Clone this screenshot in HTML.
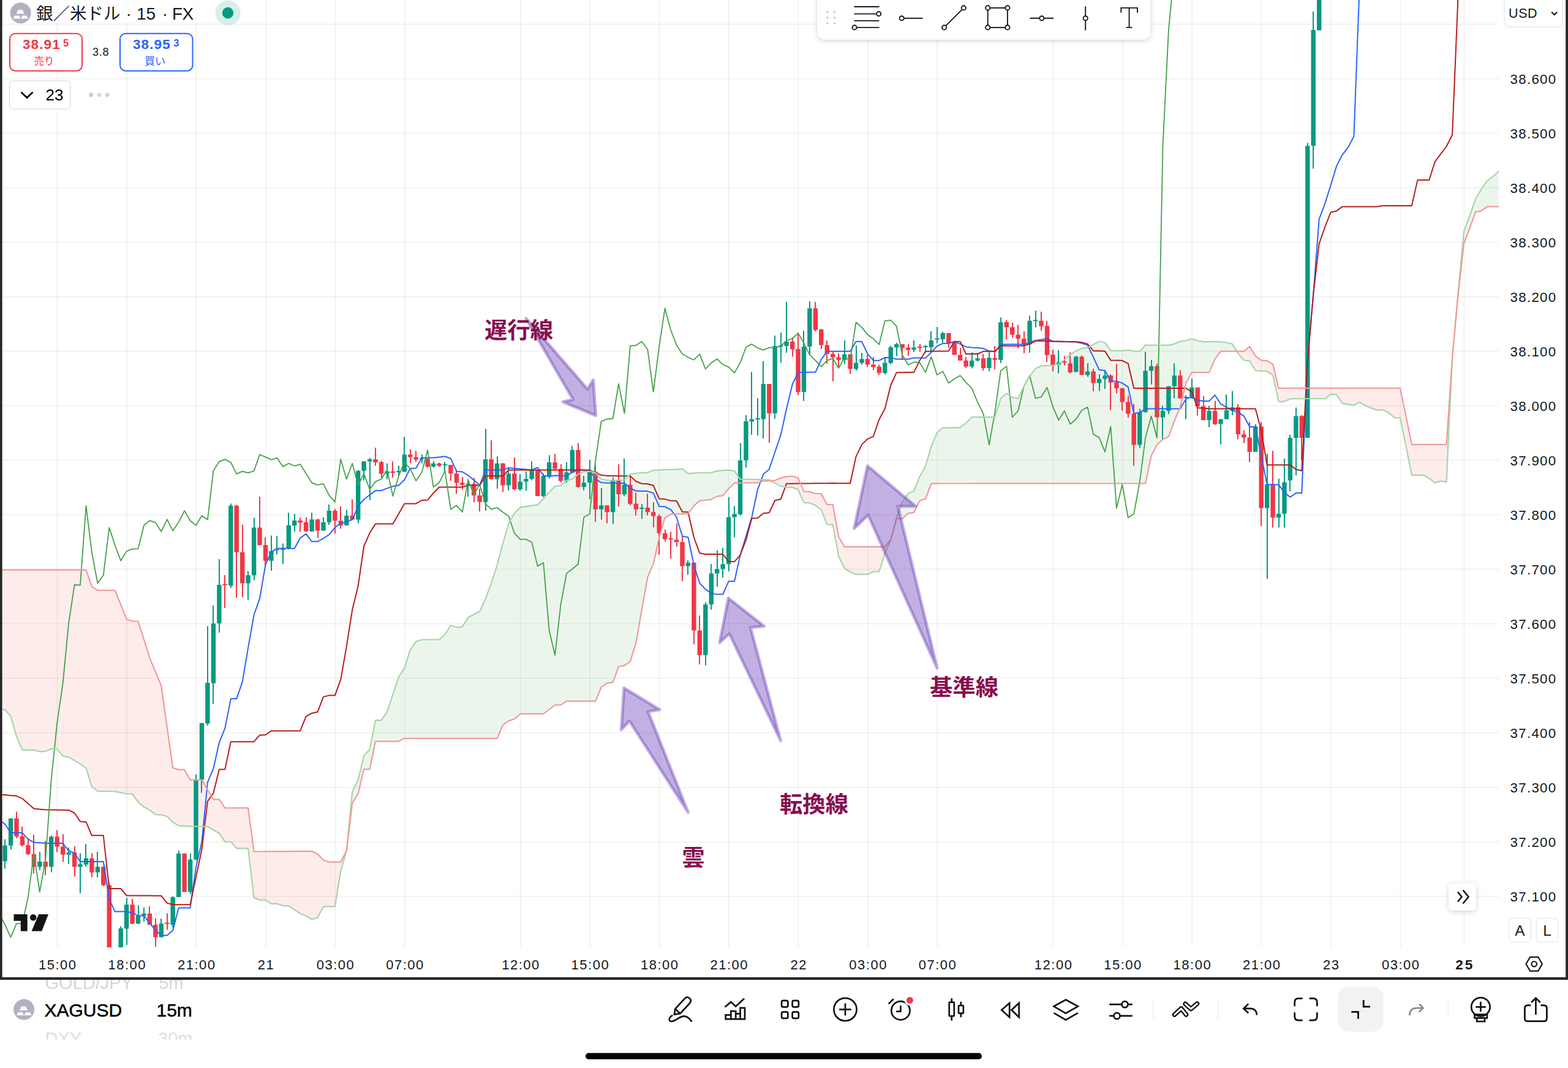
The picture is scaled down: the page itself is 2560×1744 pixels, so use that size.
<!DOCTYPE html>
<html><head><meta charset="utf-8"><title>XAGUSD 15m Ichimoku</title>
<style>html,body{margin:0;padding:0;background:#fff}body{width:2560px;height:1744px;position:relative;overflow:hidden;font-family:"Liberation Sans",sans-serif}svg text{font-family:"Liberation Sans","Noto Sans CJK JP",sans-serif}</style>
</head><body>
<svg width="2560" height="1744" viewBox="0 0 2560 1744" style="position:absolute;left:0;top:0">
<defs><clipPath id="plot"><rect x="3.5" y="0" width="2444" height="1547"/></clipPath><filter id="sh" x="-20%" y="-20%" width="140%" height="160%"><feDropShadow dx="0" dy="2" stdDeviation="4" flood-color="#000" flood-opacity="0.18"/></filter></defs>
<path d="M93.6 0V1547M207 0V1547M320.4 0V1547M433.9 0V1547M547.3 0V1547M660.7 0V1547M849.7 0V1547M963.2 0V1547M1076.6 0V1547M1190 0V1547M1303.4 0V1547M1416.9 0V1547M1530.3 0V1547M1719.3 0V1547M1832.7 0V1547M1946.2 0V1547M2059.6 0V1547M2173 0V1547M2286.4 0V1547M2390.4 0V1547" stroke="#000" stroke-opacity="0.05" stroke-width="2" fill="none"/>
<path d="M3.5 39.4H2447.5M3.5 128.4H2447.5M3.5 217.4H2447.5M3.5 306.4H2447.5M3.5 395.5H2447.5M3.5 484.5H2447.5M3.5 573.5H2447.5M3.5 662.5H2447.5M3.5 751.5H2447.5M3.5 840.6H2447.5M3.5 929.6H2447.5M3.5 1018.6H2447.5M3.5 1107.6H2447.5M3.5 1196.6H2447.5M3.5 1285.7H2447.5M3.5 1374.7H2447.5M3.5 1463.7H2447.5" stroke="#000" stroke-opacity="0.05" stroke-width="2" fill="none"/>
<g clip-path="url(#plot)">
<path d="M3.7 1158.7 L8.1 1159.1 L17.6 1169.4 L27 1202.5 L36.5 1224.8 L45.9 1224.8 L55.4 1224.8 L64.8 1227.3 L74.3 1226.9 L83.7 1222.7 L93.2 1223.1 L102.7 1234.5 L112.1 1236.2 L121.6 1241.9 L131 1247.6 L140.5 1253.8 L149.9 1284.7 L159.4 1292 L168.8 1292.1 L178.3 1292.2 L187.7 1292.4 L197.2 1294.4 L206.6 1296.5 L216.1 1296.5 L225.5 1309.5 L235 1317.8 L244.4 1322.9 L253.9 1330.2 L263.3 1330.6 L272.8 1333.3 L282.2 1342.6 L291.7 1348.3 L301.1 1348.9 L310.6 1349.4 L320 1349.5 L329.5 1349.7 L338.9 1349.8 L348.4 1355.3 L357.9 1360.7 L367.3 1374.6 L376.8 1374.6 L386.2 1385.3 L395.7 1385.3 L405.1 1385.3 L414.6 1466.1 L424 1469.6 L433.5 1469.6 L442.9 1475.8 L452.4 1475.8 L461.8 1478.9 L471.3 1479.4 L480.7 1485.4 L490.2 1491.9 L499.6 1495.8 L509.1 1501.2 L518.5 1498.5 L528 1480.3 L537.4 1480.3 L546.9 1480.3 L556.3 1422.1 L565.8 1389 L565.8 1389 L556.3 1407.6 L546.9 1407.6 L537.4 1407.6 L528 1404.5 L518.5 1394.6 L509.1 1390.1 L499.6 1390.1 L490.2 1390.1 L480.7 1390.1 L471.3 1390.3 L461.8 1390.3 L452.4 1390.3 L442.9 1390.3 L433.5 1390.5 L424 1390.5 L414.6 1390.5 L405.1 1319.4 L395.7 1319.4 L386.2 1319.4 L376.8 1319.4 L367.3 1319.4 L357.9 1305.4 L348.4 1305.4 L338.9 1289.9 L329.5 1273.4 L320 1273.4 L310.6 1273.4 L301.1 1256.9 L291.7 1256.9 L282.2 1253.8 L272.8 1187.3 L263.3 1119.9 L253.9 1097.1 L244.4 1074.4 L235 1044.5 L225.5 1014.5 L216.1 1014.5 L206.6 1010.8 L197.2 987.4 L187.7 964 L178.3 964 L168.8 964 L159.4 964 L149.9 957.8 L140.5 930.6 L131 930.6 L121.6 930.6 L112.1 930.6 L102.7 930.6 L93.2 930.6 L83.7 930.6 L74.3 930.6 L64.8 930.6 L55.4 930.6 L45.9 930.6 L36.5 930.6 L27 930.6 L17.6 930.6 L8.1 930.6 L3.7 930.6 Z" fill="#f44336" fill-opacity="0.1"/>
<path d="M565.8 1389 L575.2 1293 L584.7 1273.8 L594.1 1234.2 L603.6 1223.6 L613 1176.1 L622.5 1176.1 L632 1162.6 L641.4 1134.1 L650.9 1105.6 L660.3 1090.8 L669.8 1060.8 L679.2 1047.8 L688.7 1044.5 L698.1 1044.5 L707.6 1044.5 L717 1044.5 L726.5 1036 L735.9 1021.2 L745.4 1024.3 L754.8 1023.6 L764.3 1008.2 L773.7 1003.3 L783.2 998.5 L792.6 978.2 L802.1 952.3 L811.5 923 L821 887.8 L830.4 854.8 L839.9 838.3 L849.3 828.4 L858.8 827.1 L868.2 825.7 L877.7 824.4 L887.2 814.5 L896.6 803.7 L906.1 793.9 L915.5 792.8 L925 784.6 L934.4 782.1 L943.9 774.3 L953.3 770.1 L962.8 769.7 L972.2 772.2 L981.7 782.5 L991.1 784 L1000.6 784.6 L1010 784 L1019.5 783.6 L1028.9 774.3 L1038.4 772.8 L1047.8 772.2 L1057.3 771.6 L1066.7 768.1 L1076.2 767.5 L1085.6 767 L1095.1 766.8 L1104.5 766.6 L1114 765.6 L1123.4 773.2 L1132.9 772.7 L1142.3 772.2 L1151.8 772 L1161.3 771.8 L1170.7 769.1 L1180.2 768.1 L1189.6 767.6 L1199.1 769.1 L1208.5 782.5 L1218 782.7 L1227.4 782.9 L1236.9 783.1 L1246.3 783.3 L1255.8 783.5 L1258.3 785 L1258.3 785 L1255.8 785.1 L1246.3 785.6 L1236.9 788.3 L1227.4 788.4 L1218 788.5 L1208.5 788.6 L1199.1 788.7 L1189.6 798 L1180.2 809.4 L1170.7 810.4 L1161.3 815.6 L1151.8 816.6 L1142.3 817.6 L1132.9 825.9 L1123.4 838.9 L1114 839.1 L1104.5 839.3 L1095.1 839.9 L1085.6 845.5 L1076.2 877.5 L1066.7 920.9 L1057.3 942.8 L1047.8 995.8 L1038.4 1049.5 L1028.9 1080.4 L1019.5 1086.6 L1010 1088.7 L1000.6 1114.1 L991.1 1115.6 L981.7 1121.8 L972.2 1144.9 L962.8 1144.9 L953.3 1144.9 L943.9 1144.9 L934.4 1144.9 L925 1144.9 L915.5 1151.2 L906.1 1151.3 L896.6 1158.5 L887.2 1165.7 L877.7 1165.7 L868.2 1165.7 L858.8 1165.7 L849.3 1165.7 L839.9 1174 L830.4 1177.1 L821 1184.1 L811.5 1205.8 L802.1 1205.8 L792.6 1205.8 L783.2 1205.8 L773.7 1205.8 L764.3 1205.8 L754.8 1205.8 L745.4 1205.8 L735.9 1205.8 L726.5 1205.8 L717 1205.8 L707.6 1205.8 L698.1 1205.8 L688.7 1205.8 L679.2 1205.8 L669.8 1205.8 L660.3 1205.8 L650.9 1210.6 L641.4 1210.6 L632 1210.6 L622.5 1210.6 L613 1210.6 L603.6 1256.2 L594.1 1256.2 L584.7 1295.7 L575.2 1311.6 L565.8 1389 Z" fill="#43a047" fill-opacity="0.1"/>
<path d="M1258.3 785 L1265.2 788.7 L1274.7 793.9 L1284.1 795.6 L1293.6 795.9 L1303 799.5 L1312.5 820.8 L1321.9 821.2 L1331.4 825.3 L1340.8 832.3 L1350.3 856.3 L1359.7 856.6 L1369.2 908.3 L1378.6 928 L1388.1 934.1 L1397.5 937.9 L1407 937.9 L1416.5 937.9 L1425.9 933.5 L1435.4 933.1 L1444.8 904.2 L1454.3 881.5 L1454.3 881.5 L1444.8 892.8 L1435.4 892.8 L1425.9 892.8 L1416.5 892.8 L1407 892.8 L1397.5 892.8 L1388.1 892.8 L1378.6 892.8 L1369.2 876.3 L1359.7 824 L1350.3 824 L1340.8 806.2 L1331.4 806 L1321.9 802.9 L1312.5 802.5 L1303 780.6 L1293.6 777.5 L1284.1 778.4 L1274.7 780.4 L1265.2 784.6 L1258.3 785 Z" fill="#f44336" fill-opacity="0.1"/>
<path d="M1454.3 881.5 L1463.7 845.3 L1473.2 819.5 L1482.6 805.7 L1492.1 802 L1501.5 778.2 L1511 761.2 L1520.4 729.2 L1529.9 706.4 L1539.3 698.6 L1548.8 698.4 L1558.2 698.3 L1567.7 698.2 L1577.1 690.9 L1586.6 681.2 L1596 681.2 L1605.5 681.1 L1614.9 681.1 L1624.4 681 L1633.8 650.7 L1643.3 642.3 L1652.7 649 L1662.2 650.8 L1671.7 630.9 L1681.1 614.3 L1690.6 601.9 L1700 597.3 L1709.5 597 L1718.9 596.7 L1728.4 594.6 L1737.8 587.4 L1747.3 579.1 L1756.7 572.9 L1766.2 568.8 L1775.6 567.8 L1785.1 562.6 L1794.5 557.5 L1804 559.5 L1813.4 572.5 L1822.9 572.7 L1832.3 572.9 L1841.8 571.5 L1851.2 573.4 L1860.7 574 L1870.1 563.6 L1879.6 563.6 L1889 563.6 L1898.5 563.6 L1907.9 563.6 L1917.4 561.6 L1926.8 557.5 L1936.3 556 L1945.8 553.3 L1955.2 556.4 L1964.7 558.1 L1974.1 558.1 L1983.6 558.1 L1993 558.1 L2002.5 559.5 L2011.9 561.6 L2019.2 573.6 L2019.2 573.6 L2011.9 573.6 L2002.5 573.6 L1993 573.6 L1983.6 586.4 L1974.1 608.1 L1964.7 608.1 L1955.2 608.1 L1945.8 608.1 L1936.3 625.6 L1926.8 664.9 L1917.4 687.2 L1907.9 712.8 L1898.5 717.5 L1889 725.8 L1879.6 744.4 L1870.1 789.5 L1860.7 789.5 L1851.2 789.5 L1841.8 789.5 L1832.3 789.5 L1822.9 789.5 L1813.4 789.5 L1804 789.5 L1794.5 789.5 L1785.1 789.5 L1775.6 789.5 L1766.2 789.5 L1756.7 789.4 L1747.3 789.4 L1737.8 789.4 L1728.4 789.4 L1718.9 789.3 L1709.5 789.3 L1700 789.3 L1690.6 789.3 L1681.1 789.3 L1671.7 789.4 L1662.2 789.4 L1652.7 789.4 L1643.3 789.4 L1633.8 789.4 L1624.4 789.4 L1614.9 789.4 L1605.5 789.4 L1596 789.4 L1586.6 789.5 L1577.1 789.5 L1567.7 789.5 L1558.2 789.5 L1548.8 789.5 L1539.3 789.5 L1529.9 789.6 L1520.4 789.6 L1511 814.8 L1501.5 817.5 L1492.1 837.1 L1482.6 838.1 L1473.2 847 L1463.7 847 L1454.3 881.5 Z" fill="#43a047" fill-opacity="0.1"/>
<path d="M2019.2 573.6 L2021.4 577.1 L2030.8 588.4 L2040.3 589.2 L2049.7 605 L2059.2 605.7 L2068.6 606 L2078.1 612.5 L2087.5 655.6 L2097 655.6 L2106.4 651.2 L2115.9 651.1 L2125.3 651 L2134.8 651 L2144.2 651 L2153.7 651 L2163.1 651 L2172.6 643.8 L2182 644.2 L2191.5 658.7 L2201 660.2 L2210.4 661.8 L2219.9 656.6 L2229.3 662.8 L2238.8 666.2 L2248.2 669.6 L2257.7 669.6 L2267.1 673.7 L2276.6 682 L2286 682.4 L2295.5 729.1 L2304.9 775.8 L2314.4 775.8 L2323.8 775.8 L2333.3 781.1 L2342.7 788.4 L2352.2 785.7 L2361.6 787.1 L2371.1 583.3 L2371.1 583.3 L2361.6 725.8 L2352.2 725.8 L2342.7 725.8 L2333.3 725.8 L2323.8 725.8 L2314.4 725.8 L2304.9 725.8 L2295.5 679.8 L2286 633.9 L2276.6 633.9 L2267.1 633.9 L2257.7 633.9 L2248.2 633.9 L2238.8 633.9 L2229.3 633.9 L2219.9 633.9 L2210.4 633.9 L2201 633.9 L2191.5 633.9 L2182 633.9 L2172.6 633.9 L2163.1 633.9 L2153.7 633.9 L2144.2 633.9 L2134.8 633.9 L2125.3 633.9 L2115.9 633.9 L2106.4 633.9 L2097 633.9 L2087.5 633.9 L2078.1 594.6 L2068.6 589.1 L2059.2 588.4 L2049.7 581.3 L2040.3 565.9 L2030.8 573.6 L2021.4 573.6 L2019.2 573.6 Z" fill="#f44336" fill-opacity="0.1"/>
<path d="M2371.1 583.3 L2380.5 479.2 L2390 378.3 L2399.4 352.5 L2408.9 325.6 L2418.3 309.1 L2427.8 295.7 L2437.2 288.4 L2446.7 280.2 L2446.7 337.4 L2437.2 337.4 L2427.8 337.4 L2418.3 344.6 L2408.9 346.3 L2399.4 372.5 L2390 397.9 L2380.5 482.2 L2371.1 583.3 Z" fill="#43a047" fill-opacity="0.1"/>
<path d="M8 1370.4V1418.4M18 1336.4V1387.4M65 1391.1V1421M84 1364.3V1424.6M112 1383.9V1410.7M131 1393.2V1458.6M140 1378.1V1415.3M159 1391.1V1433M197 1512.5V1581.1M207 1466.1V1542.9M226 1478.3V1509.2M235 1482V1504.7M263 1499.9V1530.5M282 1463.4V1514.6M292 1389V1465M311 1393.8V1460.3M320 1264.5V1405.1M329 1180.8V1294.4M339 1022.4V1184.9M348 988.7V1149.4M358 912.9V1033.1M377 822.3V960.3M405 932.6V979.5M415 845.6V947.5M443 874.5V931.9M452 875.5V905.5M462 887.6V920.8M471 837.3V897.2M481 838.9V868.2M509 837.2V868.2M528 844.5V866.6M537 823.8V856.9M566 832.5V857.9M585 768.1V854.4M594 753.2V784.6M604 747.8V816.6M632 756.7V782.5M651 760.4V777.3M660 713.3V770.5M689 742.2V756.7M708 753V763.5M726 754.2V771.2M764 782.5V811M793 700.3V834.1M812 745.3V798M830 763.3V800.7M849 774.3V801.5M859 769.7V801.5M868 753.6V784.6M887 773.6V811.8M897 743.3V781.5M925 754.6V788.3M934 728.2V772.2M953 776.9V800.7M963 750.9V814.9M982 797V848.6M1001 779.4V855.4M1019 748.8V810.4M1048 823.2V847.2M1123 915.1V938.4M1152 983.4V1086.6M1161 921.3V995.4M1171 898.8V958.1M1180 894.5V943.1M1190 811.8V932.9M1199 825.9V877.5M1209 723.6V842M1218 677.7V763.4M1227 607.2V709.9M1237 650.3V711.6M1246 589.7V716.3M1265 548V683.8M1275 543.3V592.4M1284 493.1V575.9M1312 539.8V654.8M1322 492V578.4M1379 555.7V594.5M1398 564.3V605.2M1407 576.3V595.5M1445 584.6V611.4M1454 564.5V594.5M1464 559.8V581.5M1492 556.1V574.7M1511 563.5V576.3M1520 540.8V573.2M1530 534V560.8M1539 541.8V559.8M1587 575.3V601.5M1596 576.3V590.4M1615 575.3V605.9M1634 518.5V592.8M1681 515.5V576M1691 507.3V534.7M1728 571.9V609.7M1757 581.2V607.6M1776 593.2V615.3M1795 611.2V638.6M1804 606V634.9M1861 667.5V731.6M1870 574.6V673.7M1880 587.8V627.7M1898 662.8V717.5M1908 630.4V676.2M1917 593.2V650.4M1936 645.2V684.5M1946 618V651.4M1974 662.8V697.5M1993 684.5V725.8M2002 644.2V684.5M2012 638.6V677.9M2050 692.7V737.8M2069 740.7V945.3M2088 781.8V861.6M2097 749.1V861.6M2106 709.7V802.3M2116 665.6V776.2M2135 233.3V715M2144 18.8V275.4M2154 -50V49.6" stroke="#089981" stroke-width="2" fill="none"/>
<path d="M27 1325.4V1368.4M36 1349.8V1382.4M46 1368.8V1396.3M55 1363.2V1426.2M74 1373.5V1429.3M93 1355.6V1391.5M103 1362.2V1407.2M122 1381.8V1431.4M150 1393.2V1432.4M169 1414.9V1447.3M178 1440.7V1581.1M216 1468.1V1509.2M244 1480.3V1510.3M254 1499.5V1546M273 1491.3V1518.5M301 1393.8V1456.6M367 939.3V992.8M386 824.3V976M396 856.8V975.2M424 810.9V890.8M433 877.4V926M490 845.5V868.2M500 844.5V868.2M519 847.2V878.6M547 831V871.3M556 826.9V863.5M575 815.6V848.6M613 730.9V760.4M623 752.6V780.4M641 753.6V780M670 734V756.7M679 736V754.6M698 748.8V763.5M717 755.2V762.3M736 759.2V785.2M745 766.4V806.3M755 778.8V799.4M774 780.4V820.3M783 798V835.2M802 718.9V782.9M821 756.1V803.6M840 747V800.7M878 767.4V810.4M906 741.2V766.4M916 758.1V787.7M944 723.6V796.4M972 759.2V852.3M991 824.9V854.4M1010 758.3V826.9M1029 777.3V825.3M1038 804.6V842M1057 806.3V841.4M1067 820.3V861M1076 840.3V905.8M1086 864.5V884.3M1095 868.2V912.2M1105 854.8V892.4M1114 876.1V949M1133 918.8V1052.2M1142 1005.1V1085M1256 626.9V723.1M1294 551.1V582.5M1303 545.3V645.3M1331 493.1V541.2M1341 537.1V570.1M1350 556.1V593.9M1360 573.8V622.8M1369 576.9V601.1M1388 578.4V610.8M1416 579.4V599.4M1426 582.9V604.6M1435 595.3V612.5M1473 561.9V587.3M1483 561.9V580.9M1502 561.9V574.7M1549 543.9V568.1M1558 557.3V579.4M1568 568.1V588.7M1577 582.9V600.7M1605 578V605.2M1624 565V603.2M1643 522.7V554.3M1653 526.9V551.4M1662 530.5V568.4M1672 540.9V576.7M1700 508.9V540.3M1709 524V590.9M1719 570.9V606.6M1738 581.2V596.7M1747 575.6V609.7M1766 580.6V612.2M1785 601.9V639M1813 611.2V669.6M1823 594.2V642.5M1832 633.5V670.4M1842 646.3V682M1851 659.7V760.5M1889 594.2V681.4M1927 604.5V651M1955 632.8V678.3M1965 646.9V686.5M1984 654.5V693.8M2021 660.3V717.5M2031 702.4V723.7M2040 689.2V754.7M2059 689.2V859.1M2078 736.1V861.6M2125 677.9V751.6" stroke="#f23645" stroke-width="2" fill="none"/>
<path d="M4.4 1380.8h7.4V1406.2h-7.4ZM13.9 1336.4h7.4V1380.8h-7.4ZM61.1 1407h7.4V1415.5h-7.4ZM80 1366.3h7.4V1415.5h-7.4ZM108.4 1392.1h7.4V1395.6h-7.4ZM127.3 1411.3h7.4V1415.5h-7.4ZM136.8 1401.4h7.4V1411.8h-7.4ZM155.7 1415.5h7.4V1424.6h-7.4ZM193.5 1516.1h7.4V1581.1h-7.4ZM202.9 1477.2h7.4V1516.5h-7.4ZM221.8 1495.4h7.4V1508.2h-7.4ZM231.3 1491.7h7.4V1495.4h-7.4ZM259.6 1508.2h7.4V1530.5h-7.4ZM278.5 1465h7.4V1509.9h-7.4ZM288 1393.8h7.4V1465h-7.4ZM306.9 1403.5h7.4V1456.6h-7.4ZM316.3 1273.4h7.4V1403.5h-7.4ZM325.8 1180.8h7.4V1273.4h-7.4ZM335.2 1115.1h7.4V1181.4h-7.4ZM344.7 1018h7.4V1115.7h-7.4ZM354.2 955h7.4V1018h-7.4ZM373.1 825.8h7.4V956.6h-7.4ZM401.4 939.3h7.4V952.5h-7.4ZM410.9 861.5h7.4V939.6h-7.4ZM439.2 900.1h7.4V915.8h-7.4ZM448.7 896.4h7.4V898.4h-7.4ZM458.1 896.1h7.4V898.1h-7.4ZM467.6 857.7h7.4V896.1h-7.4ZM477 850.1h7.4V857.9h-7.4ZM505.4 848.2h7.4V867.8h-7.4ZM524.3 852.7h7.4V866.6h-7.4ZM533.7 834.1h7.4V852.7h-7.4ZM562.1 842h7.4V857.9h-7.4ZM581 768.7h7.4V848.6h-7.4ZM590.4 753.6h7.4V768.7h-7.4ZM599.9 750.1h7.4V753.6h-7.4ZM628.3 769.7h7.4V773.8h-7.4ZM647.2 769.1h7.4V771.2h-7.4ZM656.6 742.2h7.4V770.5h-7.4ZM685 747.6h7.4V749.6h-7.4ZM703.9 756.7h7.4V761.9h-7.4ZM722.8 757.7h7.4V759.7h-7.4ZM760.6 790.2h7.4V792.2h-7.4ZM788.9 750.1h7.4V819.7h-7.4ZM807.8 756.7h7.4V782.5h-7.4ZM826.7 773.6h7.4V792.4h-7.4ZM845.6 786.6h7.4V799h-7.4ZM855.1 782.1h7.4V786.6h-7.4ZM864.5 767.4h7.4V782.1h-7.4ZM883.5 777.3h7.4V810h-7.4ZM892.9 755h7.4V778h-7.4ZM921.3 771.2h7.4V785.2h-7.4ZM930.7 735h7.4V771.8h-7.4ZM949.6 788.3h7.4V795.3h-7.4ZM959.1 769.1h7.4V788.3h-7.4ZM978 825.3h7.4V831.7h-7.4ZM996.9 784h7.4V836.2h-7.4ZM1015.8 791.4h7.4V807.3h-7.4ZM1044.1 829h7.4V831h-7.4ZM1119.7 918.8h7.4V924.4h-7.4ZM1148.1 987.1h7.4V1069.7h-7.4ZM1157.6 936.4h7.4V987.1h-7.4ZM1167 929.2h7.4V936.4h-7.4ZM1176.5 921.3h7.4V929.2h-7.4ZM1185.9 844.5h7.4V921.3h-7.4ZM1195.4 839.3h7.4V844.5h-7.4ZM1204.8 751.7h7.4V839.7h-7.4ZM1214.3 688h7.4V751.7h-7.4ZM1223.7 684.4h7.4V688.5h-7.4ZM1233.2 683.1h7.4V685.1h-7.4ZM1242.6 626.9h7.4V684.4h-7.4ZM1261.5 565h7.4V675.1h-7.4ZM1271 563.9h7.4V566h-7.4ZM1280.4 557.7h7.4V565h-7.4ZM1308.8 566h7.4V639.9h-7.4ZM1318.2 503.4h7.4V566h-7.4ZM1374.9 578.4h7.4V587.7h-7.4ZM1393.8 592.4h7.4V602.5h-7.4ZM1403.3 586.2h7.4V592.4h-7.4ZM1441.1 592.4h7.4V608.9h-7.4ZM1450.6 567h7.4V592.8h-7.4ZM1460 561.9h7.4V567.4h-7.4ZM1488.4 567.6h7.4V571.2h-7.4ZM1507.3 565.1h7.4V567.1h-7.4ZM1516.7 556.1h7.4V567h-7.4ZM1526.2 552.5h7.4V554.5h-7.4ZM1535.6 543.9h7.4V554h-7.4ZM1582.9 588.7h7.4V598.6h-7.4ZM1592.3 585.2h7.4V588.7h-7.4ZM1611.2 584.2h7.4V601.1h-7.4ZM1630.1 526.3h7.4V587.7h-7.4ZM1677.4 523.8h7.4V562.6h-7.4ZM1686.9 522.5h7.4V524.5h-7.4ZM1724.7 591.5h7.4V595.7h-7.4ZM1753 582.6h7.4V607.6h-7.4ZM1771.9 606.6h7.4V612.6h-7.4ZM1790.8 618.8h7.4V625.6h-7.4ZM1800.3 613.2h7.4V618.8h-7.4ZM1857 673.1h7.4V726.4h-7.4ZM1866.4 605.4h7.4V673.1h-7.4ZM1875.9 598.1h7.4V605.4h-7.4ZM1894.8 671h7.4V681.4h-7.4ZM1904.2 630.8h7.4V671h-7.4ZM1913.7 613.2h7.4V630.8h-7.4ZM1932.6 648.1h7.4V650.1h-7.4ZM1942.1 632.8h7.4V649.4h-7.4ZM1970.4 671h7.4V686.1h-7.4ZM1989.3 684.5h7.4V692.3h-7.4ZM1998.8 670h7.4V684.5h-7.4ZM2008.2 664.9h7.4V670.6h-7.4ZM2046 696.5h7.4V737.8h-7.4ZM2064.9 791.1h7.4V829.8h-7.4ZM2083.8 839.1h7.4V845.3h-7.4ZM2093.3 787.5h7.4V839.1h-7.4ZM2102.7 715h7.4V784.5h-7.4ZM2112.2 679.5h7.4V715h-7.4ZM2131.1 238.2h7.4V715h-7.4ZM2140.5 49h7.4V238.2h-7.4ZM2150 -50h7.4V49.6h-7.4Z" fill="#089981"/>
<path d="M23.3 1336.4h7.4V1365.7h-7.4ZM32.8 1365.7h7.4V1380.2h-7.4ZM42.2 1380.2h7.4V1394.8h-7.4ZM51.7 1394.8h7.4V1415.5h-7.4ZM70.6 1407h7.4V1415.5h-7.4ZM89.5 1366.3h7.4V1382.4h-7.4ZM99 1382.4h7.4V1395.6h-7.4ZM117.9 1392.1h7.4V1415.5h-7.4ZM146.2 1401.4h7.4V1424.6h-7.4ZM165.1 1415.5h7.4V1445.4h-7.4ZM174.6 1445.4h7.4V1581.1h-7.4ZM212.4 1477.2h7.4V1508.2h-7.4ZM240.7 1491.7h7.4V1509.9h-7.4ZM250.2 1509.9h7.4V1530.5h-7.4ZM269.1 1506.7h7.4V1508.7h-7.4ZM297.4 1393.8h7.4V1456.6h-7.4ZM363.6 953.7h7.4V955.7h-7.4ZM382.5 825.8h7.4V901.8h-7.4ZM392 901.8h7.4V952.5h-7.4ZM420.3 861.5h7.4V890h-7.4ZM429.8 890h7.4V915.8h-7.4ZM486.5 850.1h7.4V853.4h-7.4ZM495.9 852.7h7.4V867.8h-7.4ZM514.8 848.2h7.4V866.6h-7.4ZM543.2 834.1h7.4V850.3h-7.4ZM552.6 850.3h7.4V857.9h-7.4ZM571.5 842h7.4V848.6h-7.4ZM609.3 750.1h7.4V755h-7.4ZM618.8 754.6h7.4V773.8h-7.4ZM637.7 769.7h7.4V772.2h-7.4ZM666.1 742.2h7.4V746.4h-7.4ZM675.5 746.4h7.4V750.5h-7.4ZM694.4 748.8h7.4V761.9h-7.4ZM713.3 756.7h7.4V760.8h-7.4ZM732.2 759.2h7.4V773.2h-7.4ZM741.7 773.2h7.4V788.3h-7.4ZM751.1 788.3h7.4V791.8h-7.4ZM770 790.2h7.4V808.9h-7.4ZM779.5 808.9h7.4V819.7h-7.4ZM798.4 750.1h7.4V782.5h-7.4ZM817.3 756.7h7.4V792.4h-7.4ZM836.2 773.2h7.4V799h-7.4ZM874 767.4h7.4V810h-7.4ZM902.4 755h7.4V765.4h-7.4ZM911.8 765.4h7.4V785.2h-7.4ZM940.2 735h7.4V795.3h-7.4ZM968.5 770.5h7.4V831.7h-7.4ZM987.4 825.3h7.4V836.2h-7.4ZM1006.3 784h7.4V807.3h-7.4ZM1025.2 791.4h7.4V822.8h-7.4ZM1034.7 822.4h7.4V831.7h-7.4ZM1053.6 829h7.4V836.2h-7.4ZM1063 836.2h7.4V842.8h-7.4ZM1072.5 842.8h7.4V870.7h-7.4ZM1081.9 870.7h7.4V880.6h-7.4ZM1091.4 879.1h7.4V881.1h-7.4ZM1100.8 881.2h7.4V885.2h-7.4ZM1110.3 885.2h7.4V924.4h-7.4ZM1129.2 918.8h7.4V1029.4h-7.4ZM1138.6 1029.4h7.4V1069.7h-7.4ZM1252.1 626.9h7.4V675.1h-7.4ZM1289.9 557.7h7.4V570.5h-7.4ZM1299.3 570.1h7.4V639.9h-7.4ZM1327.7 503.4h7.4V538.7h-7.4ZM1337.1 538.1h7.4V563.5h-7.4ZM1346.6 563.5h7.4V578h-7.4ZM1356 578h7.4V583.5h-7.4ZM1365.5 583.5h7.4V587.7h-7.4ZM1384.4 578.4h7.4V602.5h-7.4ZM1412.8 586.2h7.4V595.3h-7.4ZM1422.2 595.3h7.4V599.4h-7.4ZM1431.7 599h7.4V608.9h-7.4ZM1469.5 561.9h7.4V568.1h-7.4ZM1478.9 567.4h7.4V571.6h-7.4ZM1497.8 566h7.4V568h-7.4ZM1545.1 543.9h7.4V560.4h-7.4ZM1554.5 558.8h7.4V579.4h-7.4ZM1564 579.4h7.4V588.7h-7.4ZM1573.4 588.7h7.4V598.6h-7.4ZM1601.8 585.2h7.4V601.1h-7.4ZM1620.7 584.6h7.4V587.7h-7.4ZM1639.6 526.1h7.4V534.6h-7.4ZM1649 534.3h7.4V546.4h-7.4ZM1658.5 546.4h7.4V553.3h-7.4ZM1668 553h7.4V562.5h-7.4ZM1696.3 523.8h7.4V532.7h-7.4ZM1705.8 532.3h7.4V579.8h-7.4ZM1715.2 579.1h7.4V595.7h-7.4ZM1734.1 590.2h7.4V592.2h-7.4ZM1743.6 593.2h7.4V608.1h-7.4ZM1762.5 582.6h7.4V612.2h-7.4ZM1781.4 606.6h7.4V625.6h-7.4ZM1809.7 613.2h7.4V624.6h-7.4ZM1819.2 624.2h7.4V633.9h-7.4ZM1828.6 633.9h7.4V656.6h-7.4ZM1838.1 656.2h7.4V675.8h-7.4ZM1847.5 675.8h7.4V726.4h-7.4ZM1885.3 598.1h7.4V681.4h-7.4ZM1923.1 613.2h7.4V650.4h-7.4ZM1951.5 632.8h7.4V663.8h-7.4ZM1961 663.2h7.4V686.1h-7.4ZM1979.9 671h7.4V692.7h-7.4ZM2017.7 664.9h7.4V709.3h-7.4ZM2027.1 709.3h7.4V714.4h-7.4ZM2036.6 714.4h7.4V737.8h-7.4ZM2055.5 696.5h7.4V829.8h-7.4ZM2074.4 791.1h7.4V845.3h-7.4ZM2121.6 679.3h7.4V715h-7.4Z" fill="#f23645"/>
<path d="M3.7 1342.6 L8.1 1345.7 L17.6 1360.1 L27 1360.1 L36.5 1360.1 L45.9 1370.4 L55.4 1375.6 L64.8 1376.3 L74.3 1377.1 L83.7 1377.1 L93.2 1377.1 L102.7 1377.1 L112.1 1389 L121.6 1393.2 L131 1407 L140.5 1407 L149.9 1407 L159.4 1407 L168.8 1407 L178.3 1468.1 L187.7 1488.6 L197.2 1488.6 L206.6 1488.6 L216.1 1490.7 L225.5 1495.4 L235 1495.4 L244.4 1507.3 L253.9 1519.2 L263.3 1527.4 L272.8 1527.4 L282.2 1519.2 L291.7 1482.4 L301.1 1482.4 L310.6 1482.4 L320 1415.9 L329.5 1374.6 L338.9 1277.5 L348.4 1254.8 L357.9 1212.8 L367.3 1189.1 L376.8 1141.1 L386.2 1141.1 L395.7 1113.7 L405.1 1057.9 L414.6 1004.2 L424 977.3 L433.5 922 L442.9 901.3 L452.4 895.6 L461.8 895.6 L471.3 895.6 L480.7 895.7 L490.2 878.6 L499.6 871.7 L509.1 884.3 L518.5 884.3 L528 879.2 L537.4 873 L546.9 861.4 L556.3 854.8 L565.8 851.7 L575.2 848.6 L584.7 826.7 L594.1 815.5 L603.6 808.3 L613 801.1 L622.5 801.1 L632 797.4 L641.4 794.3 L650.9 792.4 L660.3 783.5 L669.8 765 L679.2 764.5 L688.7 747.8 L698.1 747.6 L707.6 747.4 L717 746.4 L726.5 745.3 L735.9 748.8 L745.4 769.7 L754.8 770.5 L764.3 776.3 L773.7 784 L783.2 792.4 L792.6 767.6 L802.1 767.6 L811.5 767.6 L821 767.6 L830.4 763.9 L839.9 764.8 L849.3 765.7 L858.8 766.6 L868.2 767.4 L877.7 763.5 L887.2 776.4 L896.6 777.9 L906.1 776.5 L915.5 776.8 L925 777.3 L934.4 771.2 L943.9 767.4 L953.3 767.7 L962.8 768.1 L972.2 782.2 L981.7 788.1 L991.1 788.7 L1000.6 788.8 L1010 789 L1019.5 789.1 L1028.9 797 L1038.4 801.8 L1047.8 802 L1057.3 802.1 L1066.7 805.2 L1076.2 826.9 L1085.6 827.3 L1095.1 832.1 L1104.5 844.5 L1114 875.5 L1123.4 877.5 L1132.9 923 L1142.3 952.1 L1151.8 962.4 L1161.3 968.4 L1170.7 970.6 L1180.2 970.6 L1189.6 949.2 L1199.1 949.2 L1208.5 906.4 L1218 875.5 L1227.4 844.5 L1236.9 799.7 L1246.3 774.3 L1255.8 766.5 L1265.2 738.3 L1274.7 710.4 L1284.1 667.5 L1293.6 628 L1303 608.3 L1312.5 607.9 L1321.9 607.8 L1331.4 607.7 L1340.8 587.1 L1350.3 573.8 L1359.7 573.8 L1369.2 573.8 L1378.6 573.8 L1388.1 573.8 L1397.5 557.7 L1407 557.7 L1416.5 578 L1425.9 588.7 L1435.4 588.7 L1444.8 584 L1454.3 584 L1463.7 586.6 L1473.2 586.6 L1482.6 586.6 L1492.1 584.6 L1501.5 584.6 L1511 584.6 L1520.4 575.3 L1529.9 565 L1539.3 560.8 L1548.8 560.8 L1558.2 557.7 L1567.7 561.9 L1577.1 566.4 L1586.6 567.4 L1596 568.1 L1605.5 569.1 L1614.9 573.2 L1624.4 574.3 L1633.8 562.5 L1643.3 562.3 L1652.7 562.3 L1662.2 562.3 L1671.7 562.3 L1681.1 559.5 L1690.6 556 L1700 554.8 L1709.5 552.7 L1718.9 557.5 L1728.4 557.8 L1737.8 558.1 L1747.3 558.3 L1756.7 558.5 L1766.2 560.6 L1775.6 563.6 L1785.1 583.3 L1794.5 603.9 L1804 605 L1813.4 622.5 L1822.9 622.5 L1832.3 625.6 L1841.8 631.8 L1851.2 675.2 L1860.7 673.8 L1870.1 667.5 L1879.6 667.5 L1889 667.5 L1898.5 667.5 L1907.9 667.5 L1917.4 667.5 L1926.8 667.5 L1936.3 651.4 L1945.8 648.3 L1955.2 653.5 L1964.7 655.1 L1974.1 654.9 L1983.6 645.2 L1993 659.7 L2002.5 664.9 L2011.9 670 L2021.4 673.1 L2030.8 679.3 L2040.3 696.9 L2049.7 696.9 L2059.2 744.4 L2068.6 791.1 L2078.1 791.2 L2087.5 791.4 L2097 804.4 L2106.4 811.8 L2115.9 805.1 L2125.3 805.1 L2134.8 589.1 L2144.2 480.6 L2153.7 357.6 L2163.1 332.8 L2172.6 302.5 L2182 271.4 L2191.5 252.8 L2201 240.6 L2210.4 222.7 L2218.8 0" fill="none" stroke="#2962ff" stroke-width="2" stroke-linejoin="round" stroke-linecap="round" />
<path d="M3.7 1297.7 L8.1 1298.1 L17.6 1299 L27 1299.8 L36.5 1303.9 L45.9 1312.2 L55.4 1320.5 L64.8 1321.4 L74.3 1322.3 L83.7 1322.5 L93.2 1322.6 L102.7 1322.8 L112.1 1322.9 L121.6 1327.5 L131 1341.5 L140.5 1342.2 L149.9 1364.3 L159.4 1364.3 L168.8 1364.3 L178.3 1451 L187.7 1451 L197.2 1451 L206.6 1462.4 L216.1 1462.4 L225.5 1462.5 L235 1462.6 L244.4 1462.6 L253.9 1462.7 L263.3 1462.8 L272.8 1474.7 L282.2 1477.2 L291.7 1477.2 L301.1 1477.2 L310.6 1477.2 L320 1432.1 L329.5 1387 L338.9 1308.5 L348.4 1295.1 L357.9 1256.4 L367.3 1256.4 L376.8 1211.2 L386.2 1211.2 L395.7 1211.2 L405.1 1211.2 L414.6 1211.2 L424 1200.4 L433.5 1200 L442.9 1193.6 L452.4 1193.6 L461.8 1193.6 L471.3 1193.6 L480.7 1193.4 L490.2 1193.4 L499.6 1169.9 L509.1 1164.7 L518.5 1162.6 L528 1137.9 L537.4 1135.6 L546.9 1135.6 L556.3 1109.4 L565.8 1055.7 L575.2 995.8 L584.7 956.8 L594.1 892 L603.6 870.3 L613 855.4 L622.5 855.4 L632 855.4 L641.4 855.4 L650.9 838.9 L660.3 822.4 L669.8 822.4 L679.2 822.4 L688.7 817 L698.1 816.6 L707.6 805.2 L717 795.5 L726.5 795.5 L735.9 795.5 L745.4 795.5 L754.8 795.5 L764.3 792.4 L773.7 792.4 L783.2 792.4 L792.6 777.3 L802.1 777.3 L811.5 777.3 L821 777.3 L830.4 767.6 L839.9 767.6 L849.3 767.6 L858.8 767.6 L868.2 767.6 L877.7 767.6 L887.2 767.6 L896.6 767.6 L906.1 767.6 L915.5 767.6 L925 767.6 L934.4 767.6 L943.9 767.6 L953.3 767.6 L962.8 767.6 L972.2 772.6 L981.7 775.8 L991.1 776.9 L1000.6 777.1 L1010 777.3 L1019.5 777.3 L1028.9 777.3 L1038.4 786 L1047.8 789.7 L1057.3 790.2 L1066.7 792.8 L1076.2 814.5 L1085.6 815.1 L1095.1 817.6 L1104.5 818 L1114 835.8 L1123.4 836.2 L1132.9 877.5 L1142.3 903.3 L1151.8 905 L1161.3 905 L1170.7 905 L1180.2 905 L1189.6 916.8 L1199.1 917.2 L1208.5 906.4 L1218 881.7 L1227.4 846.5 L1236.9 846.1 L1246.3 838.3 L1255.8 837.2 L1265.2 817.2 L1274.7 815.1 L1284.1 789.8 L1293.6 789.7 L1303 789.6 L1312.5 789.5 L1321.9 789.4 L1331.4 789.3 L1340.8 789.2 L1350.3 789.2 L1359.7 789.1 L1369.2 789.3 L1378.6 789.3 L1388.1 789.2 L1397.5 745.9 L1407 726.1 L1416.5 716.8 L1425.9 712.6 L1435.4 684.7 L1444.8 667.2 L1454.3 629 L1463.7 608.3 L1473.2 608.2 L1482.6 608.1 L1492.1 607.9 L1501.5 588.7 L1511 573.8 L1520.4 573.7 L1529.9 573.5 L1539.3 573.4 L1548.8 573.2 L1558.2 557.7 L1567.7 557.7 L1577.1 578 L1586.6 578 L1596 578 L1605.5 573.8 L1614.9 573.8 L1624.4 573.8 L1633.8 564.5 L1643.3 564.8 L1652.7 564.8 L1662.2 564.8 L1671.7 564.8 L1681.1 561.6 L1690.6 556.8 L1700 556.6 L1709.5 556.7 L1718.9 557.5 L1728.4 557.6 L1737.8 557.8 L1747.3 557.9 L1756.7 558.1 L1766.2 559.1 L1775.6 561.6 L1785.1 572.9 L1794.5 573.1 L1804 573.4 L1813.4 588.4 L1822.9 588.6 L1832.3 588.8 L1841.8 593.6 L1851.2 633.9 L1860.7 633.9 L1870.1 633.9 L1879.6 633.9 L1889 633.9 L1898.5 633.9 L1907.9 633.9 L1917.4 633.9 L1926.8 633.9 L1936.3 633.9 L1945.8 640.1 L1955.2 665.9 L1964.7 666.5 L1974.1 667.5 L1983.6 667.5 L1993 667.5 L2002.5 667.5 L2011.9 667.5 L2021.4 667.5 L2030.8 667.5 L2040.3 667.5 L2049.7 667.5 L2059.2 703.1 L2068.6 759.2 L2078.1 759.2 L2087.5 759.2 L2097 759.2 L2106.4 759.2 L2115.9 766.6 L2125.3 768.7 L2134.8 589.1 L2144.2 480.6 L2153.7 397.9 L2163.1 371 L2172.6 346.7 L2182 344.6 L2191.5 337.4 L2201 337.4 L2210.4 337.4 L2219.9 337.4 L2229.3 337.4 L2238.8 337.4 L2248.2 337.4 L2257.7 335.9 L2267.1 335.9 L2276.6 335.9 L2286 335.9 L2295.5 335.9 L2304.9 335.9 L2314.4 293.9 L2323.8 293.9 L2333.3 293.9 L2342.7 264.2 L2352.2 251.4 L2361.6 239 L2371.1 220.3 L2380.3 0" fill="none" stroke="#b71c1c" stroke-width="2" stroke-linejoin="round" stroke-linecap="round" />
<path d="M-1.3 1491.7 L8.1 1509.9 L17.6 1530.5 L27 1508.2 L36.5 1508.2 L45.9 1465 L55.4 1393.8 L64.8 1456.6 L74.3 1403.5 L83.7 1273.4 L93.2 1180.8 L102.7 1115.1 L112.1 1018 L121.6 955 L131 955.3 L140.5 825.8 L149.9 901.8 L159.4 952.5 L168.8 939.3 L178.3 861.5 L187.7 890 L197.2 915.8 L206.6 900.1 L216.1 896.4 L225.5 896.1 L235 857.7 L244.4 850.1 L253.9 853.4 L263.3 867.8 L272.8 848.2 L282.2 866.6 L291.7 852.7 L301.1 834.1 L310.6 850.3 L320 857.9 L329.5 842 L338.9 848.6 L348.4 768.7 L357.9 753.6 L367.3 750.1 L376.8 755 L386.2 773.8 L395.7 769.7 L405.1 772.2 L414.6 769.1 L424 742.2 L433.5 746.4 L442.9 750.5 L452.4 747.8 L461.8 761.9 L471.3 756.7 L480.7 760.8 L490.2 758.1 L499.6 773.2 L509.1 788.3 L518.5 791.8 L528 790.2 L537.4 808.9 L546.9 819.7 L556.3 750.1 L565.8 782.5 L575.2 756.7 L584.7 792.4 L594.1 773.6 L603.6 799 L613 786.6 L622.5 782.1 L632 767.4 L641.4 810 L650.9 777.3 L660.3 755 L669.8 765.4 L679.2 785.2 L688.7 771.2 L698.1 735 L707.6 795.3 L717 788.3 L726.5 769.1 L735.9 831.7 L745.4 825.3 L754.8 836.2 L764.3 784 L773.7 807.3 L783.2 791.4 L792.6 822.8 L802.1 831.7 L811.5 829 L821 836.2 L830.4 842.8 L839.9 870.7 L849.3 880.6 L858.8 880.6 L868.2 885.2 L877.7 924.4 L887.2 918.8 L896.6 1029.4 L906.1 1069.7 L915.5 987.1 L925 936.4 L934.4 929.2 L943.9 921.3 L953.3 844.5 L962.8 839.3 L972.2 751.7 L981.7 688 L991.1 684.4 L1000.6 683.5 L1010 626.9 L1019.5 675.1 L1028.9 565 L1038.4 563.9 L1047.8 557.7 L1057.3 570.5 L1066.7 639.9 L1076.2 566 L1085.6 503.4 L1095.1 538.7 L1104.5 563.5 L1114 578 L1123.4 583.5 L1132.9 587.7 L1142.3 578.4 L1151.8 602.5 L1161.3 592.4 L1170.7 586.2 L1180.2 595.3 L1189.6 599.4 L1199.1 608.9 L1208.5 592.4 L1218 567 L1227.4 561.9 L1236.9 568.1 L1246.3 571.6 L1255.8 567.6 L1265.2 567.6 L1274.7 565.6 L1284.1 556.1 L1293.6 553 L1303 543.9 L1312.5 560.4 L1321.9 579.4 L1331.4 588.7 L1340.8 598.6 L1350.3 588.7 L1359.7 585.2 L1369.2 601.1 L1378.6 584.2 L1388.1 587.7 L1397.5 526.3 L1407 534.6 L1416.5 546.4 L1425.9 553.3 L1435.4 562.5 L1444.8 523.8 L1454.3 522.8 L1463.7 532.7 L1473.2 579.8 L1482.6 595.7 L1492.1 591.5 L1501.5 591.9 L1511 608.1 L1520.4 582.6 L1529.9 612.2 L1539.3 606.6 L1548.8 625.6 L1558.2 618.8 L1567.7 613.2 L1577.1 624.6 L1586.6 633.9 L1596 656.6 L1605.5 675.8 L1614.9 726.4 L1624.4 673.1 L1633.8 605.4 L1643.3 598.1 L1652.7 681.4 L1662.2 671 L1671.7 630.8 L1681.1 613.2 L1690.6 650.4 L1700 648.3 L1709.5 632.8 L1718.9 663.8 L1728.4 686.1 L1737.8 671 L1747.3 692.7 L1756.7 684.5 L1766.2 670 L1775.6 664.9 L1785.1 709.3 L1794.5 714.4 L1804 737.8 L1813.4 696.5 L1822.9 829.8 L1832.3 791.1 L1841.8 845.3 L1851.2 839.1 L1860.7 787.5 L1870.1 715 L1879.6 679.5 L1889 715 L1898.5 238.2 L1907.9 49 L1917.4 -50" fill="none" stroke="#43a047" stroke-width="1.8" stroke-linejoin="round" stroke-linecap="round" />
<path d="M3.7 1158.7 L8.1 1159.1 L17.6 1169.4 L27 1202.5 L36.5 1224.8 L45.9 1224.8 L55.4 1224.8 L64.8 1227.3 L74.3 1226.9 L83.7 1222.7 L93.2 1223.1 L102.7 1234.5 L112.1 1236.2 L121.6 1241.9 L131 1247.6 L140.5 1253.8 L149.9 1284.7 L159.4 1292 L168.8 1292.1 L178.3 1292.2 L187.7 1292.4 L197.2 1294.4 L206.6 1296.5 L216.1 1296.5 L225.5 1309.5 L235 1317.8 L244.4 1322.9 L253.9 1330.2 L263.3 1330.6 L272.8 1333.3 L282.2 1342.6 L291.7 1348.3 L301.1 1348.9 L310.6 1349.4 L320 1349.5 L329.5 1349.7 L338.9 1349.8 L348.4 1355.3 L357.9 1360.7 L367.3 1374.6 L376.8 1374.6 L386.2 1385.3 L395.7 1385.3 L405.1 1385.3 L414.6 1466.1 L424 1469.6 L433.5 1469.6 L442.9 1475.8 L452.4 1475.8 L461.8 1478.9 L471.3 1479.4 L480.7 1485.4 L490.2 1491.9 L499.6 1495.8 L509.1 1501.2 L518.5 1498.5 L528 1480.3 L537.4 1480.3 L546.9 1480.3 L556.3 1422.1 L565.8 1389 L575.2 1293 L584.7 1273.8 L594.1 1234.2 L603.6 1223.6 L613 1176.1 L622.5 1176.1 L632 1162.6 L641.4 1134.1 L650.9 1105.6 L660.3 1090.8 L669.8 1060.8 L679.2 1047.8 L688.7 1044.5 L698.1 1044.5 L707.6 1044.5 L717 1044.5 L726.5 1036 L735.9 1021.2 L745.4 1024.3 L754.8 1023.6 L764.3 1008.2 L773.7 1003.3 L783.2 998.5 L792.6 978.2 L802.1 952.3 L811.5 923 L821 887.8 L830.4 854.8 L839.9 838.3 L849.3 828.4 L858.8 827.1 L868.2 825.7 L877.7 824.4 L887.2 814.5 L896.6 803.7 L906.1 793.9 L915.5 792.8 L925 784.6 L934.4 782.1 L943.9 774.3 L953.3 770.1 L962.8 769.7 L972.2 772.2 L981.7 782.5 L991.1 784 L1000.6 784.6 L1010 784 L1019.5 783.6 L1028.9 774.3 L1038.4 772.8 L1047.8 772.2 L1057.3 771.6 L1066.7 768.1 L1076.2 767.5 L1085.6 767 L1095.1 766.8 L1104.5 766.6 L1114 765.6 L1123.4 773.2 L1132.9 772.7 L1142.3 772.2 L1151.8 772 L1161.3 771.8 L1170.7 769.1 L1180.2 768.1 L1189.6 767.6 L1199.1 769.1 L1208.5 782.5 L1218 782.7 L1227.4 782.9 L1236.9 783.1 L1246.3 783.3 L1255.8 783.5 L1265.2 788.7 L1274.7 793.9 L1284.1 795.6 L1293.6 795.9 L1303 799.5 L1312.5 820.8 L1321.9 821.2 L1331.4 825.3 L1340.8 832.3 L1350.3 856.3 L1359.7 856.6 L1369.2 908.3 L1378.6 928 L1388.1 934.1 L1397.5 937.9 L1407 937.9 L1416.5 937.9 L1425.9 933.5 L1435.4 933.1 L1444.8 904.2 L1454.3 881.5 L1463.7 845.3 L1473.2 819.5 L1482.6 805.7 L1492.1 802 L1501.5 778.2 L1511 761.2 L1520.4 729.2 L1529.9 706.4 L1539.3 698.6 L1548.8 698.4 L1558.2 698.3 L1567.7 698.2 L1577.1 690.9 L1586.6 681.2 L1596 681.2 L1605.5 681.1 L1614.9 681.1 L1624.4 681 L1633.8 650.7 L1643.3 642.3 L1652.7 649 L1662.2 650.8 L1671.7 630.9 L1681.1 614.3 L1690.6 601.9 L1700 597.3 L1709.5 597 L1718.9 596.7 L1728.4 594.6 L1737.8 587.4 L1747.3 579.1 L1756.7 572.9 L1766.2 568.8 L1775.6 567.8 L1785.1 562.6 L1794.5 557.5 L1804 559.5 L1813.4 572.5 L1822.9 572.7 L1832.3 572.9 L1841.8 571.5 L1851.2 573.4 L1860.7 574 L1870.1 563.6 L1879.6 563.6 L1889 563.6 L1898.5 563.6 L1907.9 563.6 L1917.4 561.6 L1926.8 557.5 L1936.3 556 L1945.8 553.3 L1955.2 556.4 L1964.7 558.1 L1974.1 558.1 L1983.6 558.1 L1993 558.1 L2002.5 559.5 L2011.9 561.6 L2021.4 577.1 L2030.8 588.4 L2040.3 589.2 L2049.7 605 L2059.2 605.7 L2068.6 606 L2078.1 612.5 L2087.5 655.6 L2097 655.6 L2106.4 651.2 L2115.9 651.1 L2125.3 651 L2134.8 651 L2144.2 651 L2153.7 651 L2163.1 651 L2172.6 643.8 L2182 644.2 L2191.5 658.7 L2201 660.2 L2210.4 661.8 L2219.9 656.6 L2229.3 662.8 L2238.8 666.2 L2248.2 669.6 L2257.7 669.6 L2267.1 673.7 L2276.6 682 L2286 682.4 L2295.5 729.1 L2304.9 775.8 L2314.4 775.8 L2323.8 775.8 L2333.3 781.1 L2342.7 788.4 L2352.2 785.7 L2361.6 787.1 L2371.1 583.3 L2380.5 479.2 L2390 378.3 L2399.4 352.5 L2408.9 325.6 L2418.3 309.1 L2427.8 295.7 L2437.2 288.4 L2446.7 280.2" fill="none" stroke="#a5d6a7" stroke-width="2.2" stroke-linejoin="round" stroke-linecap="round" />
<path d="M3.7 930.6 L8.1 930.6 L17.6 930.6 L27 930.6 L36.5 930.6 L45.9 930.6 L55.4 930.6 L64.8 930.6 L74.3 930.6 L83.7 930.6 L93.2 930.6 L102.7 930.6 L112.1 930.6 L121.6 930.6 L131 930.6 L140.5 930.6 L149.9 957.8 L159.4 964 L168.8 964 L178.3 964 L187.7 964 L197.2 987.4 L206.6 1010.8 L216.1 1014.5 L225.5 1014.5 L235 1044.5 L244.4 1074.4 L253.9 1097.1 L263.3 1119.9 L272.8 1187.3 L282.2 1253.8 L291.7 1256.9 L301.1 1256.9 L310.6 1273.4 L320 1273.4 L329.5 1273.4 L338.9 1289.9 L348.4 1305.4 L357.9 1305.4 L367.3 1319.4 L376.8 1319.4 L386.2 1319.4 L395.7 1319.4 L405.1 1319.4 L414.6 1390.5 L424 1390.5 L433.5 1390.5 L442.9 1390.3 L452.4 1390.3 L461.8 1390.3 L471.3 1390.3 L480.7 1390.1 L490.2 1390.1 L499.6 1390.1 L509.1 1390.1 L518.5 1394.6 L528 1404.5 L537.4 1407.6 L546.9 1407.6 L556.3 1407.6 L565.8 1389 L575.2 1311.6 L584.7 1295.7 L594.1 1256.2 L603.6 1256.2 L613 1210.6 L622.5 1210.6 L632 1210.6 L641.4 1210.6 L650.9 1210.6 L660.3 1205.8 L669.8 1205.8 L679.2 1205.8 L688.7 1205.8 L698.1 1205.8 L707.6 1205.8 L717 1205.8 L726.5 1205.8 L735.9 1205.8 L745.4 1205.8 L754.8 1205.8 L764.3 1205.8 L773.7 1205.8 L783.2 1205.8 L792.6 1205.8 L802.1 1205.8 L811.5 1205.8 L821 1184.1 L830.4 1177.1 L839.9 1174 L849.3 1165.7 L858.8 1165.7 L868.2 1165.7 L877.7 1165.7 L887.2 1165.7 L896.6 1158.5 L906.1 1151.3 L915.5 1151.2 L925 1144.9 L934.4 1144.9 L943.9 1144.9 L953.3 1144.9 L962.8 1144.9 L972.2 1144.9 L981.7 1121.8 L991.1 1115.6 L1000.6 1114.1 L1010 1088.7 L1019.5 1086.6 L1028.9 1080.4 L1038.4 1049.5 L1047.8 995.8 L1057.3 942.8 L1066.7 920.9 L1076.2 877.5 L1085.6 845.5 L1095.1 839.9 L1104.5 839.3 L1114 839.1 L1123.4 838.9 L1132.9 825.9 L1142.3 817.6 L1151.8 816.6 L1161.3 815.6 L1170.7 810.4 L1180.2 809.4 L1189.6 798 L1199.1 788.7 L1208.5 788.6 L1218 788.5 L1227.4 788.4 L1236.9 788.3 L1246.3 785.6 L1255.8 785.1 L1265.2 784.6 L1274.7 780.4 L1284.1 778.4 L1293.6 777.5 L1303 780.6 L1312.5 802.5 L1321.9 802.9 L1331.4 806 L1340.8 806.2 L1350.3 824 L1359.7 824 L1369.2 876.3 L1378.6 892.8 L1388.1 892.8 L1397.5 892.8 L1407 892.8 L1416.5 892.8 L1425.9 892.8 L1435.4 892.8 L1444.8 892.8 L1454.3 881.5 L1463.7 847 L1473.2 847 L1482.6 838.1 L1492.1 837.1 L1501.5 817.5 L1511 814.8 L1520.4 789.6 L1529.9 789.6 L1539.3 789.5 L1548.8 789.5 L1558.2 789.5 L1567.7 789.5 L1577.1 789.5 L1586.6 789.5 L1596 789.4 L1605.5 789.4 L1614.9 789.4 L1624.4 789.4 L1633.8 789.4 L1643.3 789.4 L1652.7 789.4 L1662.2 789.4 L1671.7 789.4 L1681.1 789.3 L1690.6 789.3 L1700 789.3 L1709.5 789.3 L1718.9 789.3 L1728.4 789.4 L1737.8 789.4 L1747.3 789.4 L1756.7 789.4 L1766.2 789.5 L1775.6 789.5 L1785.1 789.5 L1794.5 789.5 L1804 789.5 L1813.4 789.5 L1822.9 789.5 L1832.3 789.5 L1841.8 789.5 L1851.2 789.5 L1860.7 789.5 L1870.1 789.5 L1879.6 744.4 L1889 725.8 L1898.5 717.5 L1907.9 712.8 L1917.4 687.2 L1926.8 664.9 L1936.3 625.6 L1945.8 608.1 L1955.2 608.1 L1964.7 608.1 L1974.1 608.1 L1983.6 586.4 L1993 573.6 L2002.5 573.6 L2011.9 573.6 L2021.4 573.6 L2030.8 573.6 L2040.3 565.9 L2049.7 581.3 L2059.2 588.4 L2068.6 589.1 L2078.1 594.6 L2087.5 633.9 L2097 633.9 L2106.4 633.9 L2115.9 633.9 L2125.3 633.9 L2134.8 633.9 L2144.2 633.9 L2153.7 633.9 L2163.1 633.9 L2172.6 633.9 L2182 633.9 L2191.5 633.9 L2201 633.9 L2210.4 633.9 L2219.9 633.9 L2229.3 633.9 L2238.8 633.9 L2248.2 633.9 L2257.7 633.9 L2267.1 633.9 L2276.6 633.9 L2286 633.9 L2295.5 679.8 L2304.9 725.8 L2314.4 725.8 L2323.8 725.8 L2333.3 725.8 L2342.7 725.8 L2352.2 725.8 L2361.6 725.8 L2371.1 583.3 L2380.5 482.2 L2390 397.9 L2399.4 372.5 L2408.9 346.3 L2418.3 344.6 L2427.8 337.4 L2437.2 337.4 L2446.7 337.4" fill="none" stroke="#ef9a9a" stroke-width="2.2" stroke-linejoin="round" stroke-linecap="round" />
<path d="M858.7 519.8 L935.6 652.4 L919 656.1 L972.7 678.8 L968.6 620.6 L959.3 635.5 Z" fill="#673ab7" fill-opacity="0.4" stroke="#673ab7" stroke-opacity="0.4" stroke-width="5" stroke-linejoin="round"/>
<path d="M1123.5 1326.6 L1027.7 1177.5 L1014.3 1191.6 L1018.8 1123.4 L1077.2 1158.9 L1058 1162 Z" fill="#673ab7" fill-opacity="0.4" stroke="#673ab7" stroke-opacity="0.4" stroke-width="5" stroke-linejoin="round"/>
<path d="M1274.5 1209.5 L1190.8 1035 L1174.9 1049.5 L1189.2 976.8 L1247.6 1022.6 L1225.3 1024.7 Z" fill="#673ab7" fill-opacity="0.4" stroke="#673ab7" stroke-opacity="0.4" stroke-width="5" stroke-linejoin="round"/>
<path d="M1530 1091 L1417.3 841.2 L1394.6 862.9 L1416.3 760.7 L1494.8 826.7 L1465.9 826.7 Z" fill="#673ab7" fill-opacity="0.4" stroke="#673ab7" stroke-opacity="0.4" stroke-width="5" stroke-linejoin="round"/>
<text x="791" y="553" font-family="Liberation Sans, Noto Sans CJK JP, sans-serif" font-size="37" font-weight="bold" textLength="112" lengthAdjust="spacingAndGlyphs" fill="#880e4f">遅行線</text>
<text x="1518" y="1135.5" font-family="Liberation Sans, Noto Sans CJK JP, sans-serif" font-size="37" font-weight="bold" textLength="112" lengthAdjust="spacingAndGlyphs" fill="#880e4f">基準線</text>
<text x="1273" y="1327" font-family="Liberation Sans, Noto Sans CJK JP, sans-serif" font-size="37" font-weight="bold" textLength="112" lengthAdjust="spacingAndGlyphs" fill="#880e4f">転換線</text>
<text x="1113.5" y="1413.5" font-family="Liberation Sans, Noto Sans CJK JP, sans-serif" font-size="37" font-weight="bold" fill="#880e4f">雲</text>
</g>
<text x="2465.5" y="136.8" font-family="Liberation Sans, sans-serif" font-size="22.3" letter-spacing="1.3" fill="#131722">38.600</text>
<text x="2465.5" y="225.8" font-family="Liberation Sans, sans-serif" font-size="22.3" letter-spacing="1.3" fill="#131722">38.500</text>
<text x="2465.5" y="314.8" font-family="Liberation Sans, sans-serif" font-size="22.3" letter-spacing="1.3" fill="#131722">38.400</text>
<text x="2465.5" y="403.9" font-family="Liberation Sans, sans-serif" font-size="22.3" letter-spacing="1.3" fill="#131722">38.300</text>
<text x="2465.5" y="492.9" font-family="Liberation Sans, sans-serif" font-size="22.3" letter-spacing="1.3" fill="#131722">38.200</text>
<text x="2465.5" y="581.9" font-family="Liberation Sans, sans-serif" font-size="22.3" letter-spacing="1.3" fill="#131722">38.100</text>
<text x="2465.5" y="670.9" font-family="Liberation Sans, sans-serif" font-size="22.3" letter-spacing="1.3" fill="#131722">38.000</text>
<text x="2465.5" y="759.9" font-family="Liberation Sans, sans-serif" font-size="22.3" letter-spacing="1.3" fill="#131722">37.900</text>
<text x="2465.5" y="849" font-family="Liberation Sans, sans-serif" font-size="22.3" letter-spacing="1.3" fill="#131722">37.800</text>
<text x="2465.5" y="938" font-family="Liberation Sans, sans-serif" font-size="22.3" letter-spacing="1.3" fill="#131722">37.700</text>
<text x="2465.5" y="1027" font-family="Liberation Sans, sans-serif" font-size="22.3" letter-spacing="1.3" fill="#131722">37.600</text>
<text x="2465.5" y="1116" font-family="Liberation Sans, sans-serif" font-size="22.3" letter-spacing="1.3" fill="#131722">37.500</text>
<text x="2465.5" y="1205" font-family="Liberation Sans, sans-serif" font-size="22.3" letter-spacing="1.3" fill="#131722">37.400</text>
<text x="2465.5" y="1294.1" font-family="Liberation Sans, sans-serif" font-size="22.3" letter-spacing="1.3" fill="#131722">37.300</text>
<text x="2465.5" y="1383.1" font-family="Liberation Sans, sans-serif" font-size="22.3" letter-spacing="1.3" fill="#131722">37.200</text>
<text x="2465.5" y="1472.1" font-family="Liberation Sans, sans-serif" font-size="22.3" letter-spacing="1.3" fill="#131722">37.100</text>
<text x="94.3" y="1582.8" font-family="Liberation Sans, sans-serif" font-size="22" letter-spacing="1.5" text-anchor="middle" fill="#131722">15:00</text>
<text x="207.8" y="1582.8" font-family="Liberation Sans, sans-serif" font-size="22" letter-spacing="1.5" text-anchor="middle" fill="#131722">18:00</text>
<text x="321.2" y="1582.8" font-family="Liberation Sans, sans-serif" font-size="22" letter-spacing="1.5" text-anchor="middle" fill="#131722">21:00</text>
<text x="434.6" y="1582.8" font-family="Liberation Sans, sans-serif" font-size="22" letter-spacing="1.5" text-anchor="middle" fill="#131722">21</text>
<text x="548" y="1582.8" font-family="Liberation Sans, sans-serif" font-size="22" letter-spacing="1.5" text-anchor="middle" fill="#131722">03:00</text>
<text x="661.5" y="1582.8" font-family="Liberation Sans, sans-serif" font-size="22" letter-spacing="1.5" text-anchor="middle" fill="#131722">07:00</text>
<text x="850.5" y="1582.8" font-family="Liberation Sans, sans-serif" font-size="22" letter-spacing="1.5" text-anchor="middle" fill="#131722">12:00</text>
<text x="963.9" y="1582.8" font-family="Liberation Sans, sans-serif" font-size="22" letter-spacing="1.5" text-anchor="middle" fill="#131722">15:00</text>
<text x="1077.3" y="1582.8" font-family="Liberation Sans, sans-serif" font-size="22" letter-spacing="1.5" text-anchor="middle" fill="#131722">18:00</text>
<text x="1190.8" y="1582.8" font-family="Liberation Sans, sans-serif" font-size="22" letter-spacing="1.5" text-anchor="middle" fill="#131722">21:00</text>
<text x="1304.2" y="1582.8" font-family="Liberation Sans, sans-serif" font-size="22" letter-spacing="1.5" text-anchor="middle" fill="#131722">22</text>
<text x="1417.6" y="1582.8" font-family="Liberation Sans, sans-serif" font-size="22" letter-spacing="1.5" text-anchor="middle" fill="#131722">03:00</text>
<text x="1531" y="1582.8" font-family="Liberation Sans, sans-serif" font-size="22" letter-spacing="1.5" text-anchor="middle" fill="#131722">07:00</text>
<text x="1720.1" y="1582.8" font-family="Liberation Sans, sans-serif" font-size="22" letter-spacing="1.5" text-anchor="middle" fill="#131722">12:00</text>
<text x="1833.5" y="1582.8" font-family="Liberation Sans, sans-serif" font-size="22" letter-spacing="1.5" text-anchor="middle" fill="#131722">15:00</text>
<text x="1946.9" y="1582.8" font-family="Liberation Sans, sans-serif" font-size="22" letter-spacing="1.5" text-anchor="middle" fill="#131722">18:00</text>
<text x="2060.3" y="1582.8" font-family="Liberation Sans, sans-serif" font-size="22" letter-spacing="1.5" text-anchor="middle" fill="#131722">21:00</text>
<text x="2173.7" y="1582.8" font-family="Liberation Sans, sans-serif" font-size="22" letter-spacing="1.5" text-anchor="middle" fill="#131722">23</text>
<text x="2287.2" y="1582.8" font-family="Liberation Sans, sans-serif" font-size="22" letter-spacing="1.5" text-anchor="middle" fill="#131722">03:00</text>
<text x="2391.8" y="1583" font-family="Liberation Sans, sans-serif" font-size="22.6" font-weight="bold" letter-spacing="3" text-anchor="middle" fill="#131722">25</text>
<path d="M2517.9 1574.2 L2511.3 1585.6 L2498.1 1585.6 L2491.5 1574.2 L2498.1 1562.8 L2511.3 1562.8 Z" fill="none" stroke="#131722" stroke-width="2.2" stroke-linejoin="round"/>
<circle cx="2504.7" cy="1574.2" r="4.2" fill="none" stroke="#131722" stroke-width="2.2"/>
<rect x="2463.8" y="1499.5" width="35.5" height="39" rx="6" fill="#fff" stroke="#ebebeb" stroke-width="1.5"/>
<text x="2481.5" y="1528.3" font-family="Liberation Sans, sans-serif" font-size="24.5" text-anchor="middle" fill="#131722">A</text>
<rect x="2508.3" y="1499.5" width="35.5" height="39" rx="6" fill="#fff" stroke="#ebebeb" stroke-width="1.5"/>
<text x="2526" y="1528.3" font-family="Liberation Sans, sans-serif" font-size="24.5" text-anchor="middle" fill="#131722">L</text>
<rect x="2365" y="1442.7" width="45" height="44" rx="7" fill="#fff" filter="url(#sh)"/>
<path d="M2380 1456.5l6.5 8-6.5 8M2388.5 1453.5l9 11-9 11" fill="none" stroke="#131722" stroke-width="2.6"/>
<rect x="2456" y="-8" width="95" height="52" rx="8" fill="#fff" stroke="#e6e8ee" stroke-width="1.5"/>
<text x="2463" y="29.3" font-family="Liberation Sans, sans-serif" font-size="21.5" letter-spacing="0.6" fill="#131722">USD</text>
<path d="M2533.3 19.8l4.4 4.4 4.4-4.4" fill="none" stroke="#131722" stroke-width="2.2"/>
<rect x="52" y="1" width="270" height="36" fill="#fff" fill-opacity="0.75"/>
<circle cx="33.6" cy="21.2" r="17" fill="#b2b1c1"/>
<path d="M29.5 16.2h7.2l3 6.3h-13.2zM24 25.6h7.2l2.4 5h-12zM36.4 25.6h7.2l2.4 5h-12z" fill="#fff" opacity="0.95"/>
<text x="59" y="31.5" font-family="Liberation Sans, Noto Sans CJK JP, sans-serif" font-size="27.5" textLength="137.5" lengthAdjust="spacingAndGlyphs" fill="#131722">銀／米ドル</text>
<text x="205.5" y="31.5" font-family="Liberation Sans, sans-serif" font-size="28" fill="#131722">·</text>
<text x="223" y="31.5" font-family="Liberation Sans, sans-serif" font-size="28" fill="#131722">15</text>
<text x="264.8" y="31.5" font-family="Liberation Sans, sans-serif" font-size="28" fill="#131722">·</text>
<text x="281" y="31.5" font-family="Liberation Sans, sans-serif" font-size="28" letter-spacing="-0.5" fill="#131722">FX</text>
<circle cx="372" cy="21" r="20.5" fill="#089981" fill-opacity="0.16"/><circle cx="372" cy="21" r="9.2" fill="#089981"/>
<rect x="16" y="54.7" width="118" height="61" rx="9" fill="#fff" stroke="#f23645" stroke-width="2"/>
<text x="37" y="79.8" font-family="Liberation Sans, sans-serif" font-size="22.5" font-weight="bold" letter-spacing="1.1" fill="#f23645">38.91</text>
<text x="103" y="75.8" font-family="Liberation Sans, sans-serif" font-size="16.5" font-weight="bold" fill="#f23645">5</text>
<text x="55.5" y="105.5" font-family="Liberation Sans, Noto Sans CJK JP, sans-serif" font-size="16.5" fill="#f23645">売り</text>
<text x="151" y="91" font-family="Liberation Sans, sans-serif" font-size="18" letter-spacing="0.7" fill="#131722">3.8</text>
<rect x="196" y="54.7" width="118.5" height="61" rx="9" fill="#fff" stroke="#2962ff" stroke-width="2"/>
<text x="217" y="79.8" font-family="Liberation Sans, sans-serif" font-size="22.5" font-weight="bold" letter-spacing="1.1" fill="#2962ff">38.95</text>
<text x="283.3" y="75.8" font-family="Liberation Sans, sans-serif" font-size="16.5" font-weight="bold" fill="#2962ff">3</text>
<text x="236" y="105.5" font-family="Liberation Sans, Noto Sans CJK JP, sans-serif" font-size="17" fill="#2962ff">買い</text>
<rect x="15.5" y="131.9" width="99.5" height="46.2" rx="6" fill="#fff" stroke="#dcdde1" stroke-width="1.3"/>
<path d="M34.5 150.5l9.5 9 9.5-9" fill="none" stroke="#000" stroke-width="2.8"/>
<text x="74.5" y="164" font-family="Liberation Sans, sans-serif" font-size="26" fill="#000">23</text>
<circle cx="148.8" cy="155" r="3.4" fill="#c9c9c9"/><circle cx="162" cy="155" r="3.4" fill="#d9d9d9"/><circle cx="175.2" cy="155" r="3.4" fill="#d0d0d0"/>
<rect x="1334.4" y="-20" width="543.6" height="84.7" rx="13" fill="#fff" filter="url(#sh)"/>
<circle cx="1351" cy="19.8" r="1.7" fill="#c6c6c6"/><circle cx="1351" cy="28.9" r="1.7" fill="#c6c6c6"/><circle cx="1351" cy="38" r="1.7" fill="#c6c6c6"/><circle cx="1362.5" cy="19.8" r="1.7" fill="#c6c6c6"/><circle cx="1362.5" cy="28.9" r="1.7" fill="#c6c6c6"/><circle cx="1362.5" cy="38" r="1.7" fill="#c6c6c6"/>
<path d="M1394.5 11H1435.5M1394.5 22.6H1431M1394.5 33.9H1435.5M1399 44.9H1435.5" fill="none" stroke="#131722" stroke-width="1.9"/>
<circle cx="1434.7" cy="22.6" r="3.6" fill="#fff" stroke="#131722" stroke-width="1.9"/><circle cx="1395" cy="44.9" r="3.6" fill="#fff" stroke="#131722" stroke-width="1.9"/>
<path d="M1476 29.8H1506.6" fill="none" stroke="#131722" stroke-width="1.9"/><circle cx="1472.2" cy="29.8" r="3.6" fill="#fff" stroke="#131722" stroke-width="1.9"/>
<path d="M1544.2 42.2L1570.7 15.6" fill="none" stroke="#131722" stroke-width="1.9"/><circle cx="1541.6" cy="44.9" r="3.6" fill="#fff" stroke="#131722" stroke-width="1.9"/><circle cx="1573.3" cy="12.9" r="3.6" fill="#fff" stroke="#131722" stroke-width="1.9"/>
<rect x="1612.7" y="12.9" width="32.2" height="32" fill="none" stroke="#131722" stroke-width="1.9"/>
<circle cx="1612.7" cy="12.9" r="3.6" fill="#fff" stroke="#131722" stroke-width="1.9"/>
<circle cx="1612.7" cy="44.9" r="3.6" fill="#fff" stroke="#131722" stroke-width="1.9"/>
<circle cx="1644.9" cy="12.9" r="3.6" fill="#fff" stroke="#131722" stroke-width="1.9"/>
<circle cx="1644.9" cy="44.9" r="3.6" fill="#fff" stroke="#131722" stroke-width="1.9"/>
<path d="M1681.5 29.8H1720.1" fill="none" stroke="#131722" stroke-width="1.9"/><circle cx="1700.8" cy="29.8" r="3.6" fill="#fff" stroke="#131722" stroke-width="1.9"/>
<path d="M1772.2 10.5V49.6" fill="none" stroke="#131722" stroke-width="1.9"/><circle cx="1772.2" cy="29.8" r="3.6" fill="#fff" stroke="#131722" stroke-width="1.9"/>
<path d="M1830.3 20.7V12.9H1857V20.7M1843.6 12.9V44.9M1838.6 44.9H1848.6" fill="none" stroke="#131722" stroke-width="1.9"/>
<path d="M22.5 1493h22.2v27.5H33.8v-16.8H22.5z" fill="#131313"/><circle cx="54.2" cy="1498.3" r="5.3" fill="#131313"/><path d="M63.2 1493H79L68.2 1520.5H51.6z" fill="#131313"/>
<rect x="0" y="0" width="3.6" height="1600" fill="#262626"/>
<rect x="2556.2" y="0" width="3.8" height="1600" fill="#262626"/>
<rect x="0" y="1595.8" width="2560" height="4.2" fill="#262626"/>
<defs><clipPath id="pk"><rect x="0" y="1600" width="700" height="97.5"/></clipPath><linearGradient id="fd1" x1="0" y1="0" x2="0" y2="1"><stop offset="0" stop-color="#fff" stop-opacity="0"/><stop offset="1" stop-color="#fff" stop-opacity="1"/></linearGradient></defs>
<g clip-path="url(#pk)" font-family="Liberation Sans, sans-serif" font-size="29" fill="#d6d6d6">
<text x="73.5" y="1614.5">GOLD/JPY</text><text x="259" y="1614.5">5m</text>
<text x="73.5" y="1706" fill="#dedede">DXY</text><text x="258" y="1706" fill="#dedede">30m</text></g>
<circle cx="39.1" cy="1648.6" r="17" fill="#b2b1c1"/>
<path d="M35 1643.6h7.2l3 6.3h-13.2zM29.5 1653h7.2l2.4 5h-12zM41.9 1653h7.2l2.4 5h-12z" fill="#fff" opacity="0.95"/>
<text x="72.5" y="1659.6" font-family="Liberation Sans, sans-serif" font-size="30" fill="#000" stroke="#000" stroke-width="0.5">XAGUSD</text>
<text x="255.5" y="1659.6" font-family="Liberation Sans, sans-serif" font-size="30" fill="#000" stroke="#000" stroke-width="0.5">15m</text>
<path d="M1100.8 1656.7L1102.4 1647.4L1118.6 1629.9Q1122.1 1626.7 1126.3 1630.6Q1129.5 1633.8 1126.3 1638L1110.5 1655.1ZM1102.6 1647.6L1110.3 1655" fill="none" stroke="#111" stroke-width="2.7" stroke-linecap="round" stroke-linejoin="round"/>
<path d="M1097.3 1658.3C1089 1664 1093 1671.5 1102 1666C1109 1661.5 1113 1659 1117 1659.3C1122 1659.8 1126 1663 1128.9 1667.7" fill="none" stroke="#111" stroke-width="2.7" stroke-linecap="round" stroke-linejoin="round"/>
<path d="M1183.4 1644.5L1193.4 1636.1L1201.2 1643.5L1215.1 1630.6" fill="none" stroke="#111" stroke-width="2.7"/>
<path d="M1184.7 1664.1V1657.4H1193.4V1651.2H1201.2V1655.4H1208.6V1645.8H1216V1664.1ZM1193.4 1657.4V1664.1M1201.2 1655.4V1664.1M1208.6 1655.4V1664.1" fill="none" stroke="#111" stroke-width="2.7"/>
<rect x="1276.1" y="1633.9" width="10.3" height="10.4" rx="2.6" fill="none" stroke="#111" stroke-width="2.7"/>
<rect x="1276.1" y="1652.4" width="10.3" height="10.4" rx="2.6" fill="none" stroke="#111" stroke-width="2.7"/>
<rect x="1293.6" y="1633.9" width="10.3" height="10.4" rx="2.6" fill="none" stroke="#111" stroke-width="2.7"/>
<rect x="1293.6" y="1652.4" width="10.3" height="10.4" rx="2.6" fill="none" stroke="#111" stroke-width="2.7"/>
<circle cx="1380" cy="1648.4" r="18.6" fill="none" stroke="#111" stroke-width="2.7"/><path d="M1370.2 1648.4H1389.8M1380 1638.6V1658.2" fill="none" stroke="#111" stroke-width="2.7"/>
<circle cx="1470.4" cy="1650.2" r="15.1" fill="none" stroke="#111" stroke-width="2.7"/>
<circle cx="1485.4" cy="1633.4" r="8.6" fill="#fff"/>
<path d="M1470.4 1642V1651.6H1463.2M1450.8 1639.3L1458.8 1631.2" fill="none" stroke="#111" stroke-width="2.7"/>
<circle cx="1485.4" cy="1633.4" r="5.4" fill="#f23645"/>
<path d="M1553.7 1630.3V1636.6M1553.7 1659.2V1666.4M1568.9 1635.7V1642M1568.9 1654.7V1661" fill="none" stroke="#111" stroke-width="2.7"/>
<rect x="1549.7" y="1636.6" width="8.1" height="22.6" rx="1" fill="none" stroke="#111" stroke-width="2.7"/><rect x="1565" y="1642" width="7.8" height="12.7" rx="1" fill="none" stroke="#111" stroke-width="2.7"/>
<path d="M1635.2 1649.3L1648.2 1637.9V1661ZM1651.5 1649.3L1663.6 1637.9V1661Z" fill="none" stroke="#111" stroke-width="2.7"/>
<path d="M1740 1632.5L1759.9 1643.3L1740 1654.7L1720.5 1643.3ZM1720.5 1654.2L1740 1665.5L1759.9 1654.2" fill="none" stroke="#111" stroke-width="2.7"/>
<path d="M1811.2 1640.2H1831.3M1841.7 1640.2H1848.8M1811.2 1658.9H1818.3M1828.7 1658.9H1848.8" fill="none" stroke="#111" stroke-width="2.7"/>
<circle cx="1836.5" cy="1640.2" r="5" fill="none" stroke="#111" stroke-width="2.7"/><circle cx="1823.5" cy="1658.9" r="5" fill="none" stroke="#111" stroke-width="2.7"/>
<path d="M1882.8 1632V1664.6M1988.5 1632V1664.6M2364.3 1632V1664.6" stroke="#f0f0f0" stroke-width="1.6" fill="none"/>
<path d="M1917.5 1657L1928.5 1646.9L1936.6 1656.9" fill="none" stroke="#111" stroke-width="7.6" stroke-linecap="round" stroke-linejoin="round"/>
<path d="M1917.5 1657L1928.5 1646.9L1936.6 1656.9" fill="none" stroke="#fff" stroke-width="3" stroke-linecap="round" stroke-linejoin="round"/>
<path d="M1935.2 1639.3L1944.2 1647.5L1954.5 1639" fill="none" stroke="#111" stroke-width="7.6" stroke-linecap="round" stroke-linejoin="round"/>
<path d="M1935.2 1639.3L1944.2 1647.5L1954.5 1639" fill="none" stroke="#fff" stroke-width="3" stroke-linecap="round" stroke-linejoin="round"/>
<path d="M2038.2 1639.3L2030.3 1646.9L2038.2 1654.3M2030.8 1646.9H2041C2048 1646.9 2051.8 1651 2051.8 1657.6" fill="none" stroke="#111" stroke-width="2.7"/>
<path d="M2113.7 1642V1636.6Q2113.7 1630.3 2120 1630.3H2125.4M2138.6 1630.3H2144Q2150.3 1630.3 2150.3 1636.6V1642M2150.3 1654.4V1659.8Q2150.3 1666.1 2144 1666.1H2138.6M2125.4 1666.1H2120Q2113.7 1666.1 2113.7 1659.8V1654.4" fill="none" stroke="#111" stroke-width="2.8" stroke-linecap="round"/>
<rect x="2184.6" y="1611.3" width="74" height="73.2" rx="17" fill="#f2f2f2"/>
<path d="M2226.2 1633V1643.9H2237M2206.3 1652.4H2217.5V1663.7" fill="none" stroke="#111" stroke-width="2.8"/>
<path d="M2318 1640.3L2323.6 1646.1L2317.4 1652M2323.2 1646.1H2313C2305.5 1646.1 2301.6 1650.5 2301.4 1657" fill="none" stroke="#8c8c8c" stroke-width="2.8" stroke-linecap="round" stroke-linejoin="round"/>
<circle cx="2417.4" cy="1644.3" r="15.2" fill="none" stroke="#111" stroke-width="2.7"/><path d="M2409.4 1644.3H2425.8M2417.4 1635.7V1652" fill="none" stroke="#111" stroke-width="2.7"/>
<path d="M2407.6 1656.6H2427.9V1662.4H2407.6ZM2411.2 1662.4V1668H2424V1662.4" fill="none" stroke="#111" stroke-width="2.7"/>
<path d="M2499.4 1641.7H2494.4Q2489.4 1641.7 2489.4 1646.7V1662.7Q2489.4 1667.7 2494.4 1667.7H2520.4Q2525.4 1667.7 2525.4 1662.7V1646.7Q2525.4 1641.7 2520.4 1641.7H2515.4M2507.4 1657V1630M2500.1 1637L2507.4 1629.7L2514.8 1637" fill="none" stroke="#111" stroke-width="2.7"/>
<rect x="956" y="1719.5" width="647" height="10.3" rx="5.1" fill="#000"/>
</svg>
</body></html>
